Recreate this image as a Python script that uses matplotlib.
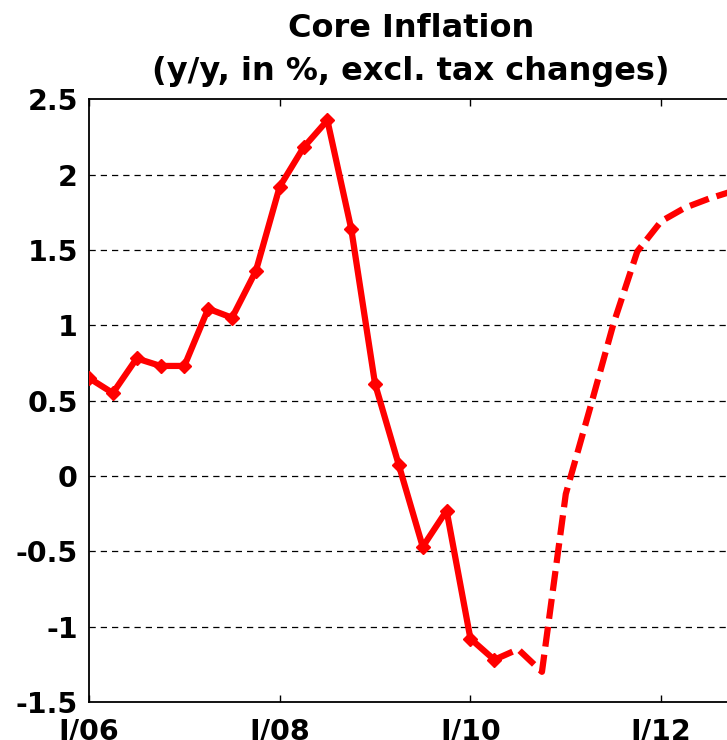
import matplotlib
matplotlib.use('Agg')
from matplotlib import pyplot as plt

# quarters from I/06 (index 0) up to IV/12 (index 27)
actual_q = list(range(0, 18))
actual = [0.65, 0.55, 0.78, 0.73, 0.73, 1.11, 1.05, 1.36, 1.92, 2.18,
          2.36, 1.64, 0.61, 0.07, -0.47, -0.23, -1.08, -1.22]

forecast_q = list(range(17, 28))
forecast = [-1.22, -1.15, -1.30, -0.12, 0.44, 1.01, 1.49, 1.69, 1.78, 1.84, 1.89]

xtick_pos = [0, 8, 16, 24]
xtick_lab = ['I/06', 'I/08', 'I/10', 'I/12']
yticks = [-1.5, -1, -0.5, 0, 0.5, 1, 1.5, 2, 2.5]
ytick_lab = ['-1.5', '-1', '-0.5', '0', '0.5', '1', '1.5', '2', '2.5']

plt.rcParams['font.family'] = ['DejaVu Sans']
plt.rcParams['font.weight'] = 'bold'

fig = plt.figure(figsize=(7.27, 7.40), dpi=100)
ax = fig.add_axes([0.1224, 0.0514, 0.8854, 0.8145])

red = '#ff0000'
ax.plot(forecast_q, forecast, color=red, lw=4.5, dashes=(3.2, 1.3),
        solid_capstyle='butt', zorder=3)
ax.plot(actual_q, actual, color=red, lw=4.5, marker='D', markersize=7,
        markeredgewidth=1, markerfacecolor=red, markeredgecolor=red, zorder=4)

ax.set_xlim(0, 27)
ax.set_ylim(-1.5, 2.5)
ax.set_xticks(xtick_pos)
ax.set_xticklabels(xtick_lab)
ax.set_yticks(yticks)
ax.set_yticklabels(ytick_lab)

for y in yticks[1:-1]:
    ax.axhline(y, color='black', lw=0.9, dashes=(5, 4), zorder=1)

ax.tick_params(axis='x', direction='in', length=5, width=1, top=True,
               labelsize=20.5, pad=11)
ax.tick_params(axis='y', direction='in', length=0, labelsize=20.5, pad=8)
for lab in ax.get_xticklabels() + ax.get_yticklabels():
    lab.set_fontweight('bold')

for s in ['left', 'bottom', 'top']:
    ax.spines[s].set_linewidth(1.3)
ax.spines['right'].set_visible(False)

ax.set_title('Core Inflation\n(y/y, in %, excl. tax changes)',
             fontsize=23, fontweight='bold', pad=14, linespacing=1.5)

fig.savefig('out.png', dpi=100)
